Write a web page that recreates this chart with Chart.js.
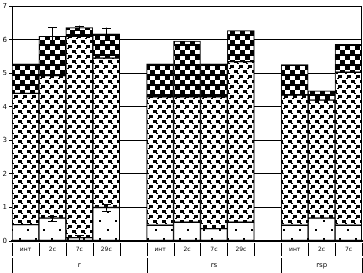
<!DOCTYPE html>
<html><head><meta charset="utf-8">
<script src="https://cdn.jsdelivr.net/npm/chart.js@4"></script>
<style>html,body{margin:0;padding:0;background:#fff}#wrap{width:363px;height:273px}</style>
</head><body><div id="wrap"><canvas id="c" width="363" height="273"></canvas></div>
<script>
// ---- data ----
const categories = ['инт','2с','7с','29с','', 'инт','2с','7с','29с','', 'инт','2с','7с'];
const groupLabels = ['r','rs','rsp'];
const groupFirst = [0, 5, 10];
const groupLast  = [4, 9, 12];
const lowerValues  = [0.49,0.68,0.10,1.00,null, 0.47,0.56,0.37,0.56,null, 0.47,0.68,0.47];
const middleValues = [3.91,4.25,6.00,4.45,null, 3.83,3.74,3.93,4.79,null, 3.88,3.52,4.56];
const upperValues  = [0.88,1.17,0.26,0.73,null, 0.98,1.66,0.98,0.92,null, 0.91,0.28,0.83];
const lowerErrors  = [0,0.07,0.07,0.10,0, 0,0,0,0,0, 0,0,0];
const upperErrors  = [0,0.27,0.06,0.18,0, 0,0,0,0,0, 0,0,0];
const yMin = 0, yMax = 7, yStep = 1;

// ---- patterns ----
function makePattern(w, h, draw) {
  const c = document.createElement('canvas'); c.width = w; c.height = h;
  const g = c.getContext('2d'); g.fillStyle = '#fff'; g.fillRect(0,0,w,h);
  g.fillStyle = '#000'; draw(g);
  return document.getElementById('c').getContext('2d').createPattern(c, 'repeat');
}
const sparsePat = makePattern(16, 18, g => { g.fillRect(3,4,2,2); g.fillRect(11,13,2,2); });
const densePat  = makePattern(9, 10, g => {
  g.fillRect(0,0,4,3); g.fillRect(3,3,2,1);
  g.fillRect(5,5,4,3); g.fillRect(4,8,2,1);
});
const checkPat  = makePattern(10, 10, g => { g.fillRect(0,0,5,5); g.fillRect(5,5,5,5); g.fillRect(0,4,10,2); });

const errorPlugin = {
  id: 'errs',
  afterDatasetsDraw(chart) {
    const ctx = chart.ctx, xs = chart.scales.x, ys = chart.scales.y;
    ctx.save(); ctx.strokeStyle = '#000'; ctx.lineWidth = 1;
    const draw = (i, v, e) => {
      if (!e) return;
      const x = Math.round(xs.getPixelForValue(i)) + 0.5;
      const y1 = ys.getPixelForValue(v + e), y2 = ys.getPixelForValue(v - e);
      ctx.beginPath();
      ctx.moveTo(x, y1); ctx.lineTo(x, y2);
      ctx.moveTo(x - 4.5, Math.round(y1)+0.5); ctx.lineTo(x + 4.5, Math.round(y1)+0.5);
      ctx.moveTo(x - 4.5, Math.round(y2)+0.5); ctx.lineTo(x + 4.5, Math.round(y2)+0.5);
      ctx.stroke();
    };
    categories.forEach((c, i) => {
      if (lowerValues[i] == null) return;
      draw(i, lowerValues[i], lowerErrors[i]);
      draw(i, lowerValues[i] + middleValues[i] + upperValues[i], upperErrors[i]);
    });
    ctx.restore();
  }
};

const framePlugin = {
  id: 'frame',
  afterDraw(chart) {
    const ctx = chart.ctx, a = chart.chartArea, xs = chart.scales.x;
    const slot = (a.right - a.left) / categories.length;
    ctx.save(); ctx.strokeStyle = '#000'; ctx.lineWidth = 1;
    ctx.beginPath();
    ctx.moveTo(a.right - 0.5, a.top); ctx.lineTo(a.right - 0.5, a.bottom);
    for (let i = 0; i <= categories.length; i++) {
      const x = Math.round(a.left + i * slot) + 0.5;
      ctx.moveTo(x, a.bottom + 2); ctx.lineTo(x, a.bottom + 15);
    }
    const bounds = [groupFirst[0]].concat(groupLast.map(l => l + 1));
    bounds.forEach(b => {
      const x = Math.round(a.left + b * slot) + 0.5;
      ctx.moveTo(x, a.bottom + 17); ctx.lineTo(x, a.bottom + 32);
    });
    ctx.stroke();
    ctx.fillStyle = '#000'; ctx.font = '7px "DejaVu Sans"';
    ctx.textAlign = 'center'; ctx.textBaseline = 'middle';
    groupLabels.forEach((g, k) => {
      const cx = (xs.getPixelForValue(groupFirst[k]) + xs.getPixelForValue(groupLast[k])) / 2;
      ctx.fillText(g, cx, a.bottom + 24);
    });
    ctx.restore();
  }
};

const common = { borderColor: '#000', borderWidth: 1, borderSkipped: false, barPercentage: 1, categoryPercentage: 1 };
new Chart(document.getElementById('c'), {
  type: 'bar',
  data: { labels: categories, datasets: [
    Object.assign({ label: 'lower',  data: lowerValues,  backgroundColor: sparsePat }, common),
    Object.assign({ label: 'middle', data: middleValues, backgroundColor: densePat }, common),
    Object.assign({ label: 'upper',  data: upperValues,  backgroundColor: checkPat }, common)
  ]},
  options: {
    responsive: false, animation: false, devicePixelRatio: 1,
    layout: { padding: { top: 3, right: 1, left: 0, bottom: 0 } },
    plugins: { legend: { display: false }, tooltip: { enabled: false } },
    scales: {
      x: { stacked: true, grid: { display: false, drawTicks: false },
           border: { color: '#000', width: 2 },
           ticks: { font: { size: 6, family: 'DejaVu Sans' }, color: '#000', padding: 5, maxRotation: 0, autoSkip: false },
           afterFit(s) { s.height = 32; } },
      y: { stacked: true, min: yMin, max: yMax,
           ticks: { stepSize: yStep, font: { size: 7, family: 'DejaVu Sans' }, color: '#000', padding: 2 },
           grid: { color: '#000', lineWidth: 1, tickLength: 3 },
           border: { color: '#000', width: 1 },
           afterFit(s) { s.width = 12; } }
    }
  },
  plugins: [errorPlugin, framePlugin]
});
</script></body></html>
